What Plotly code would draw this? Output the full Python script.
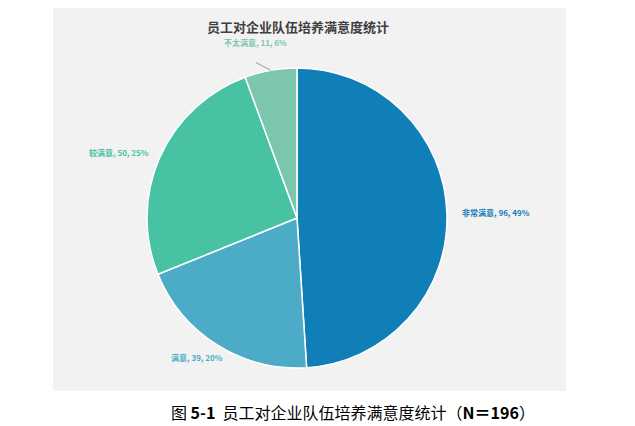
import math
import plotly.graph_objects as go

# ---- data ----
categories = ["非常满意", "满意", "较满意", "不太满意"]
counts = [96, 39, 50, 11]
percents = [49, 20, 25, 6]
chart_title = "员工对企业队伍培养满意度统计"
caption = "图 <b>5-1</b>  员工对企业队伍培养满意度统计（<b>N＝196</b>）"

# ---- styles / layout ----
colors = ["#107fb8", "#4cabc6", "#47c3a3", "#7bc6ad"]
OFF = 8  # page body margin
W, H = 635 - OFF, 426 - OFF
cx, cy, R = 297, 218, 150
# label offsets (px) from the slice's mid-angle edge point, and anchor
label_layout = [
    dict(dx=13, dy=-1, xanchor="left"),
    dict(dx=-20, dy=12, xanchor="center"),
    dict(dx=-9, dy=-5, xanchor="right"),
    dict(dx=-15, dy=-28, xanchor="center", line=(-15, -8)),
]


def px(x):
    return (x - OFF) / W


def py(y):
    return 1 - (y - OFF) / H


fig = go.Figure()
fig.add_trace(go.Pie(
    labels=categories,
    values=counts,
    sort=False,
    direction="clockwise",
    rotation=0,
    marker=dict(colors=colors, line=dict(color="white", width=1.5)),
    textinfo="none",
    hoverinfo="label+value+percent",
    showlegend=False,
    domain=dict(x=[px(cx - R), px(cx + R)], y=[py(cy + R), py(cy - R)]),
))

shapes = [dict(type="rect", xref="paper", yref="paper",
               x0=px(53), x1=px(566), y0=py(391), y1=py(4),
               fillcolor="#f2f2f2", line=dict(width=0), layer="below")]
annotations = []

total = sum(counts)
cum = 0
for i, (lab, v, p) in enumerate(zip(categories, counts, percents)):
    mid = (cum + v / 2) / total * 2 * math.pi
    cum += v
    ex = cx + R * math.sin(mid)
    ey = cy - R * math.cos(mid)
    L = label_layout[i]
    annotations.append(dict(
        x=px(ex + L["dx"]), y=py(ey + L["dy"]), xref="paper", yref="paper",
        text=f"<b>{lab}, {v}, {p}%</b>", showarrow=False,
        xanchor=L["xanchor"], yanchor="middle",
        font=dict(family="Noto Sans CJK SC, Open Sans, sans-serif", size=8, color=colors[i]),
    ))
    if "line" in L:
        lx, ly = L["line"]
        shapes.append(dict(type="line", xref="paper", yref="paper",
                           x0=px(ex), y0=py(ey), x1=px(ex + lx), y1=py(ey + ly),
                           line=dict(color="#999999", width=1)))

annotations.append(dict(
    x=px(298), y=py(27), xref="paper", yref="paper", text=f"<b>{chart_title}</b>",
    showarrow=False, xanchor="center", yanchor="middle",
    font=dict(family="Noto Sans CJK SC, sans-serif", size=13, color="#404040"),
))
annotations.append(dict(
    x=px(353), y=py(412), xref="paper", yref="paper", text=caption,
    showarrow=False, xanchor="center", yanchor="middle",
    font=dict(family="Noto Sans CJK SC, Liberation Serif, serif", size=16, color="#000000"),
))

fig.update_layout(
    width=W, height=H,
    margin=dict(l=0, r=0, t=0, b=0),
    paper_bgcolor="white",
    shapes=shapes,
    annotations=annotations,
)

fig.write_html("out.html")
